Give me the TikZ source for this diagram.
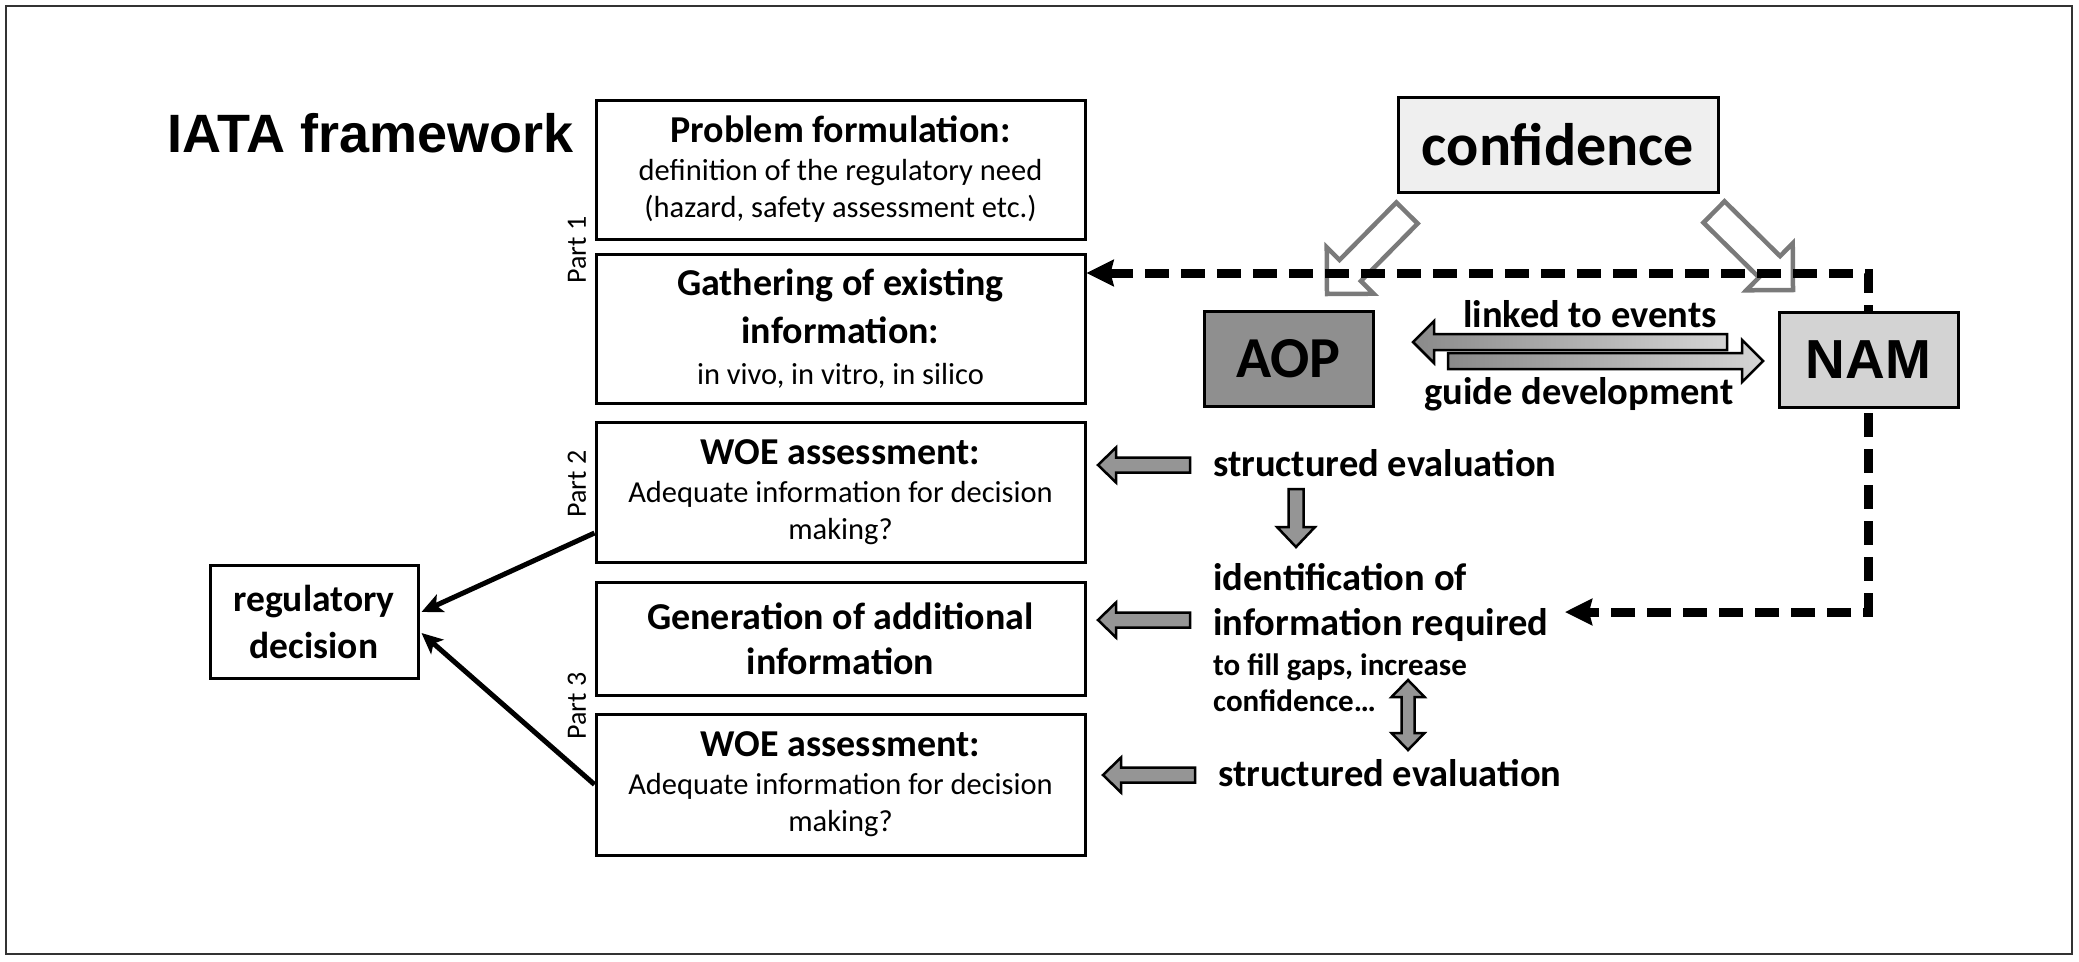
\documentclass[tikz,border=0pt]{standalone}
\usepackage{fontspec}
\setmainfont{Carlito}
\newfontfamily\arialfont{Liberation Sans}
\usetikzlibrary{arrows.meta,calc}
\definecolor{confgray}{HTML}{EFEFEF}
\definecolor{aopgray}{HTML}{8F8F8F}
\definecolor{namgray}{HTML}{D3D3D3}
\definecolor{hollowgray}{HTML}{7A7A7A}
\definecolor{arrgray}{HTML}{959595}
\definecolor{arrdark}{HTML}{8A8A8A}
\definecolor{arrlight}{HTML}{D4D4D4}
\definecolor{framegray}{HTML}{333333}
\newcommand\myhd{\bfseries\fontsize{38}{44}\selectfont}
\newcommand\myrt{\bfseries\fontsize{38.5}{44}\selectfont}
\newcommand\mybody{\fontsize{30.5}{37}\selectfont}
% single block arrow: [style]{tail}{tip}{half shaft}{half head}{head length}
\newcommand\blockarr[6][]{%
  \coordinate (ba-s) at #2; \coordinate (ba-t) at #3;
  \coordinate (ba-h) at ($(ba-t)!#6!(ba-s)$);
  \draw[#1] ($(ba-s)!#4!90:(ba-t)$) -- ($(ba-h)!#4!90:(ba-t)$) -- ($(ba-h)!#5!90:(ba-t)$)
    -- (ba-t) -- ($(ba-h)!#5!-90:(ba-t)$) -- ($(ba-h)!#4!-90:(ba-t)$) -- ($(ba-s)!#4!-90:(ba-t)$) -- cycle;}
% double block arrow: [style]{end a}{end b}{half shaft}{half head}{head length}
\newcommand\dblockarr[6][]{%
  \coordinate (da-a) at #2; \coordinate (da-b) at #3;
  \coordinate (da-ha) at ($(da-a)!#6!(da-b)$);
  \coordinate (da-hb) at ($(da-b)!#6!(da-a)$);
  \draw[#1] (da-a) -- ($(da-ha)!#5!90:(da-b)$) -- ($(da-ha)!#4!90:(da-b)$) -- ($(da-hb)!#4!-90:(da-a)$)
    -- ($(da-hb)!#5!-90:(da-a)$) -- (da-b) -- ($(da-hb)!#5!90:(da-a)$) -- ($(da-hb)!#4!90:(da-a)$)
    -- ($(da-ha)!#4!-90:(da-b)$) -- ($(da-ha)!#5!-90:(da-b)$) -- cycle;}
\tikzset{
  box/.style={draw=black, line width=3pt, fill=white, minimum width=489pt, inner sep=0pt,
    align=center, font=\mybody},
  plainbox/.style={draw=black, line width=3pt, inner sep=0pt, align=center},
  partlbl/.style={inner sep=0pt, font=\fontsize{28}{34}\selectfont},
  rtext/.style={inner sep=0pt, font=\myrt},
  blackarr/.style={line width=5pt, -{Stealth[length=21pt,width=19pt,inset=5pt]}},
  dashconn/.style={line width=9pt, dash pattern=on 24pt off 12pt, miter limit=10,
    {Stealth[length=27pt,width=26pt,inset=3pt]}-{Stealth[length=27pt,width=26pt,inset=3pt]}},
  hollow/.style={draw=hollowgray, line width=4.5pt, fill=white, line join=miter},
  grayarr/.style={draw=black, line width=2.5pt, fill=arrgray, line join=miter},
  gradarr/.style={draw=black, line width=2.5pt, left color=arrdark, right color=arrlight, line join=miter}
}
\begin{document}
\begin{tikzpicture}[x=1pt,y=-1pt]
\useasboundingbox (0,0) rectangle (2079,961);
\draw[line width=2.5pt, draw=framegray] (6,6) rectangle (2072,954);

\node[anchor=base west, inner sep=0pt, font=\arialfont\bfseries\fontsize{54}{60}\selectfont] (iata) at (167,152) {IATA framework};

\node[box, minimum height=139pt] (prob) at (840.5,169.5)
  {{\myhd Problem formulation:}\\[1pt] definition of the regulatory need\\ (hazard, safety assessment etc.)};
\node[box, minimum height=149pt] (gath) at (840.5,328.5)
  {{\myhd Gathering of existing}\\[11pt]{\myhd information:}\\[4pt] in vivo, in vitro, in silico};
\node[box, minimum height=140pt] (woe1) at (840.5,492)
  {{\myhd WOE assessment:}\\[1pt] Adequate information for decision\\ making?};
\node[box, minimum height=113pt] (gen) at (840.5,638.5)
  {{\myhd Generation of additional}\\[8pt]{\myhd information}};
\node[box, minimum height=141pt] (woe2) at (840.5,784.5)
  {{\myhd WOE assessment:}\\[1pt] Adequate information for decision\\ making?};

\node[plainbox, fill=white, minimum width=208pt, minimum height=113pt, font=\bfseries\fontsize{37.5}{36}\selectfont] (regdec) at (314,621.5)
  {regulatory\\[11pt] decision};

\node[partlbl, rotate=90] (part1) at (577,250) {Part 1};
\node[partlbl, rotate=90] (part2) at (577,484) {Part 2};
\node[partlbl, rotate=90] (part3) at (577,706) {Part 3};

\draw[blackarr] ($(woe1.west)+(0,41)$) -- ($(regdec.east)+(2,-9.5)$);
\draw[blackarr] (woe2.west) -- ($(regdec.east)+(2,11.5)$);

\node[plainbox, fill=confgray, minimum width=320pt, minimum height=95pt, font=\bfseries\fontsize{60}{60}\selectfont] (conf) at (1558,144.5) {confidence};

\blockarr[hollow]{(1407,213)}{(1327,294)}{15pt}{33pt}{33pt}
\blockarr[hollow]{(1714,212)}{(1793,290)}{15pt}{33pt}{33pt}

\coordinate (d1) at (1868.5,273);
\coordinate (d2) at (1868.5,612);
\coordinate (d3) at (1565,612);
\draw[dashconn] (gath.east |- d1) -- (d1) -- (d2) -- (d3);

\node[plainbox, fill=aopgray, minimum width=169pt, minimum height=95pt, font=\bfseries\fontsize{58}{60}\selectfont] (aop) at (1288.5,358.5) {AOP};
\node[plainbox, fill=namgray, minimum width=179pt, minimum height=95pt, font=\arialfont\bfseries\fontsize{55}{60}\selectfont] (nam) at (1868.5,359.5) {NAM};

\blockarr[gradarr]{(1727,342)}{(1413,342)}{8pt}{21pt}{21pt}
\blockarr[gradarr]{(1448,361)}{(1763,361)}{8pt}{21pt}{21pt}
\node[rtext, anchor=base west] (linked) at (1463,327) {linked to events};
\node[rtext, anchor=base west] (guide) at (1424,404) {guide development};

\node[rtext, anchor=base west] (se1) at (1213,476) {structured evaluation};
\node[inner sep=0pt, anchor=west, align=left, font=\bfseries\fontsize{31}{36}\selectfont] (ident) at (1213,638)
  {{\myrt identification of}\\[9pt]{\myrt information required}\\[4pt] to fill gaps, increase\\ confidence…};
\node[rtext, anchor=base west] (se2) at (1218,786) {structured evaluation};

\blockarr[grayarr]{(1190,465)}{(1098,465)}{7.5pt}{17.5pt}{18pt}
\blockarr[grayarr]{(1190,620)}{(1098,620)}{7.5pt}{17.5pt}{18pt}
\blockarr[grayarr]{(1195,775)}{(1103,775)}{7.5pt}{17.5pt}{18pt}
\blockarr[grayarr]{(1296,489)}{(1296,547)}{7.5pt}{19pt}{20pt}
\dblockarr[grayarr]{(1408,680)}{(1408,750)}{6.5pt}{16.5pt}{17pt}
\end{tikzpicture}
\end{document}
